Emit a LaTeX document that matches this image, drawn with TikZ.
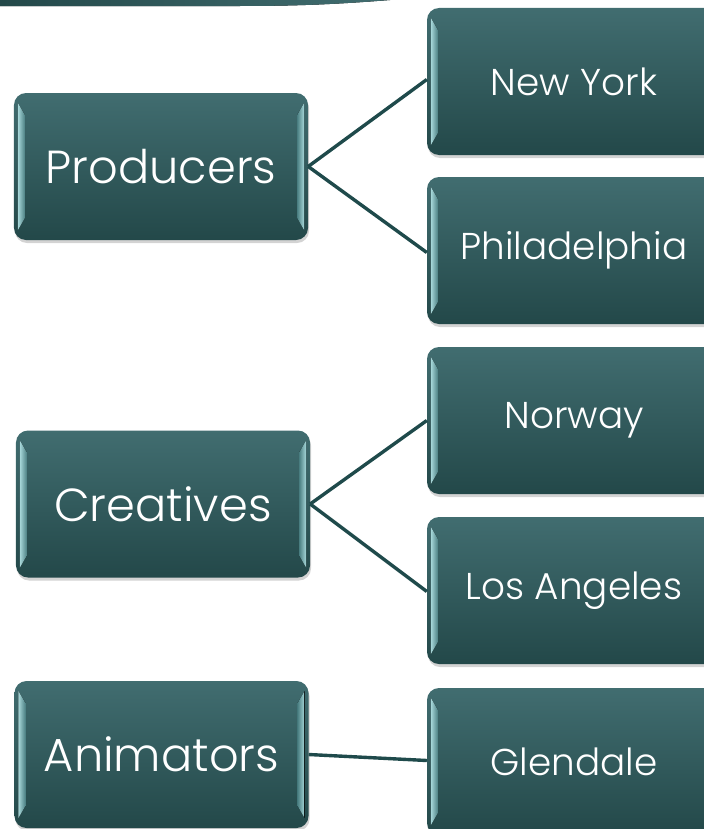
\documentclass[tikz,border=0pt]{standalone}
\usepackage{fontspec}
\setmainfont{Poppins}[UprightFont=* Light]
\usetikzlibrary{shadows,calc}
\definecolor{boxtop}{HTML}{416D70}
\definecolor{boxbot}{HTML}{234849}
\definecolor{linec}{HTML}{1F4A4B}
\definecolor{bevlight}{HTML}{A8D8DA}
\definecolor{bevdark}{HTML}{4C8083}
\newcommand{\boxbevel}[1]{%
  \fill[left color=bevlight,right color=bevdark]
    ([xshift=4bp,yshift=-10bp]#1.north west) -- ([xshift=11bp,yshift=-22bp]#1.north west)
    -- ([xshift=11bp,yshift=22bp]#1.south west) -- ([xshift=4bp,yshift=10bp]#1.south west) -- cycle;
  \fill[left color=bevdark,right color=bevlight]
    ([xshift=-4bp,yshift=-10bp]#1.north east) -- ([xshift=-11bp,yshift=-22bp]#1.north east)
    -- ([xshift=-11bp,yshift=22bp]#1.south east) -- ([xshift=-4bp,yshift=10bp]#1.south east) -- cycle;}
\tikzset{
  boxbase/.style={rounded corners=12bp, minimum width=294bp, minimum height=147bp,
    top color=boxtop, bottom color=boxbot, text=white, inner sep=0pt,
    drop shadow={opacity=0.35, shadow xshift=1bp, shadow yshift=-3bp}},
  leftbox/.style={boxbase, font=\fontsize{46.5}{50}\selectfont},
  rightbox/.style={boxbase, font=\fontsize{37.5}{40}\selectfont},
  conn/.style={draw=linec, line width=3.4bp}
}
\begin{document}
\begin{tikzpicture}[x=1bp,y=-1bp]
\useasboundingbox (0,0) rectangle (704,829);
\clip (0,0) rectangle (704,829);
% top band
\fill[left color=boxbot,right color=boxtop] (0,0) -- (390,0) .. controls (340,4) and (300,6) .. (240,6) -- (0,6) -- cycle;
% left boxes
\node[leftbox] (prod) at (161,166.5) {Producers};
\node[leftbox] (crea) at (163,504) {Creatives};
\node[leftbox] (anim) at (161.5,754.5) {Animators};
% right boxes
\node[rightbox] (ny) at (574,81.5) {New York};
\node[rightbox] (phil) at (574,250.5) {Philadelphia};
\node[rightbox] (norw) at (574,420.5) {Norway};
\node[rightbox] (la) at (574,590.5) {Los Angeles};
\node[rightbox] (glen) at (574,761.5) {Glendale};
\foreach \n in {prod,crea,anim,ny,phil,norw,la,glen}{\boxbevel{\n}}
% connectors
\draw[conn] (prod.east) -- ([yshift=2bp]ny.west);
\draw[conn] (prod.east) -- ([yshift=-2bp]phil.west);
\draw[conn] (crea.east) -- ([yshift=0bp]norw.west);
\draw[conn] (crea.east) -- ([yshift=-1bp]la.west);
\draw[conn] (anim.east) -- ([yshift=1bp]glen.west);
\end{tikzpicture}
\end{document}
